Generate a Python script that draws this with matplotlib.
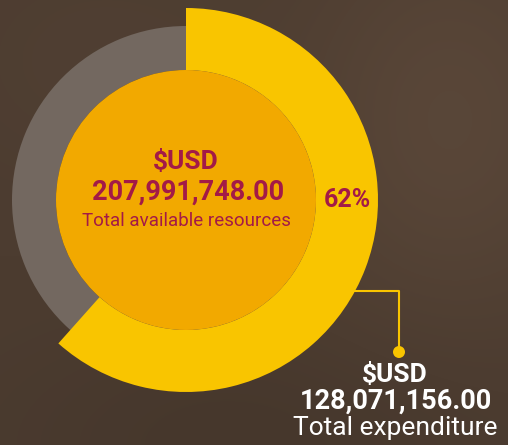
import numpy as np
import matplotlib
matplotlib.use("Agg")
import matplotlib.pyplot as plt
from matplotlib.patches import Wedge, Circle

# Data
total_resources = 207991748.00
total_expenditure = 128071156.00
currency = "$USD"
center_label = "Total available resources"
spent_label = "Total expenditure"

share = total_expenditure / total_resources
pct_text = f"{share*100:.0f}%"

W, H = 508, 445
fig = plt.figure(figsize=(W/100, H/100), dpi=100)
ax = fig.add_axes([0, 0, 1, 1])
ax.set_xlim(0, W)
ax.set_ylim(0, H)
ax.set_aspect('equal')
ax.axis('off')

# background (smooth brown gradient)
yy, xx = np.mgrid[0:H, 0:W]
base = np.array([0x4c, 0x3c, 0x30]) / 255.0
glow = np.exp(-(((xx - 450) / 150.0) ** 2 + ((yy - 120) / 200.0) ** 2))
glow2 = np.exp(-(((xx - 100) / 160.0) ** 2 + ((yy - 60) / 120.0) ** 2))
dark = np.exp(-(((xx - 250) / 250.0) ** 2 + ((yy - 445) / 120.0) ** 2))
img = base[None, None, :] * (1 + 0.17 * glow[..., None] + 0.05 * glow2[..., None]
                             - 0.08 * dark[..., None])
img = np.clip(img, 0, 1)
ax.imshow(img, extent=[0, W, 0, H], origin='upper', zorder=0)

cx, cy = 186, 245
R_out = 192
R_grey = 174
R_in = 130

ax.add_patch(Wedge((cx, cy), R_grey, 0, 360, width=R_grey - R_in,
                   facecolor='#736860', edgecolor='none', zorder=1))
ax.add_patch(Wedge((cx, cy), R_out, 90 - 360 * share, 90, width=R_out - R_in,
                   facecolor='#f9c500', edgecolor='none', zorder=2))
ax.add_patch(Circle((cx, cy), R_in, facecolor='#f2a900', edgecolor='none', zorder=3))

txt_col = '#a31a47'
fam = ['Roboto', 'DejaVu Sans']
ax.text(cx, 445 - 162, currency, ha='center', va='center', fontsize=19,
        fontweight='bold', color=txt_col, family=fam, zorder=5)
ax.text(cx + 2, 445 - 192, f"{total_resources:,.2f}", ha='center', va='center', fontsize=19.5,
        fontweight='bold', color=txt_col, family=fam, zorder=5)
ax.text(cx, 445 - 221, center_label, ha='center', va='center', fontsize=13.5,
        color=txt_col, family=fam, zorder=5)
ax.text(347, 445 - 200, pct_text, ha='center', va='center', fontsize=18,
        fontweight='bold', color=txt_col, family=fam, zorder=5)

# annotation leader
lc = '#f9c500'
ax.plot([350, 399, 399], [445 - 291, 445 - 291, 445 - 352], color=lc, lw=1.5,
        zorder=4, solid_capstyle='butt')
ax.add_patch(Circle((399, 445 - 352), 6, facecolor=lc, edgecolor='none', zorder=4))

ax.text(395, 445 - 375, currency, ha='center', va='center', fontsize=19,
        fontweight='bold', color='white', family=fam, zorder=5)
ax.text(396, 445 - 401, f"{total_expenditure:,.2f}", ha='center', va='center', fontsize=19.5,
        fontweight='bold', color='white', family=fam, zorder=5)
ax.text(395, 445 - 428, spent_label, ha='center', va='center', fontsize=19,
        color='white', family=fam, zorder=5)

fig.savefig("out.png", dpi=100)
